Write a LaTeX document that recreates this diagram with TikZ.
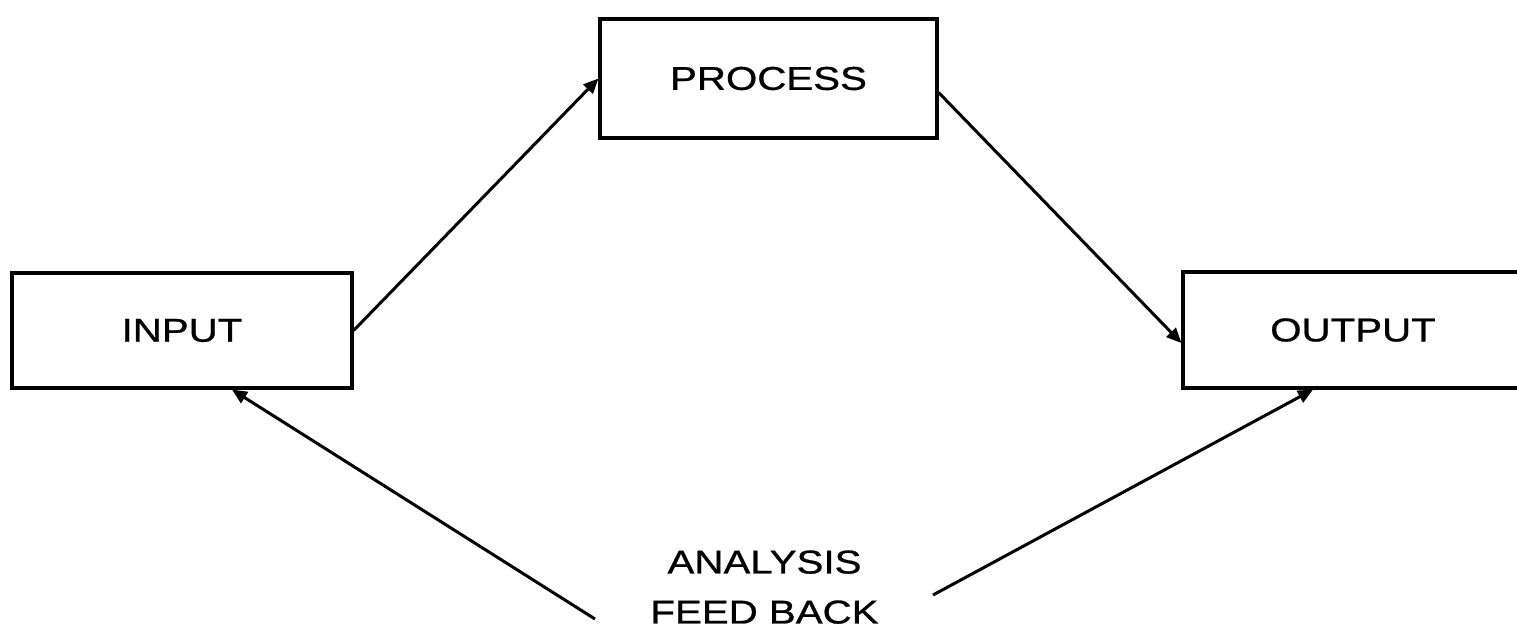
\documentclass[tikz,border=0pt]{standalone}
\usepackage{fontspec}
\setmainfont{Liberation Sans}[FakeStretch=1.22,FakeBold=0.8]
\usetikzlibrary{arrows.meta}
\begin{document}
\begin{tikzpicture}[x=1pt,y=-1pt,
  blk/.style={draw, line width=3.2pt, rectangle, inner sep=0pt,
    font=\fontsize{33}{40}\selectfont},
  conn/.style={line width=3pt, -{Triangle[length=15pt,width=13pt]}},
  lbl/.style={font=\fontsize{33}{50}\selectfont, align=center, inner sep=0pt}]
\useasboundingbox (0,0) rectangle (1517,630);
\clip (0,0) rectangle (1517,630);
\fill[white] (0,0) rectangle (1517,630);
\node[blk, minimum width=340pt, minimum height=115pt] (in) at (182,330.5) {INPUT};
\node[blk, minimum width=337pt, minimum height=119pt] (pr) at (768.5,78.5) {PROCESS};
\node[blk, minimum width=340pt, minimum height=116pt] (out) at (1353,330) {OUTPUT};
\node[lbl, anchor=south] (fb) at (764.5,624) {ANALYSIS\\FEED BACK};
\coordinate (fbL) at (595,619);
\coordinate (fbR) at (933,595);
\draw[conn] (in.east) -- (pr.west);
\draw[conn] ([yshift=-14pt]pr.east) -- ([yshift=-13pt]out.west);
\draw[conn] (fbL) -- ([xshift=50pt]in.south);
\draw[conn] (fbR) -- ([xshift=-40pt]out.south);
\end{tikzpicture}
\end{document}
